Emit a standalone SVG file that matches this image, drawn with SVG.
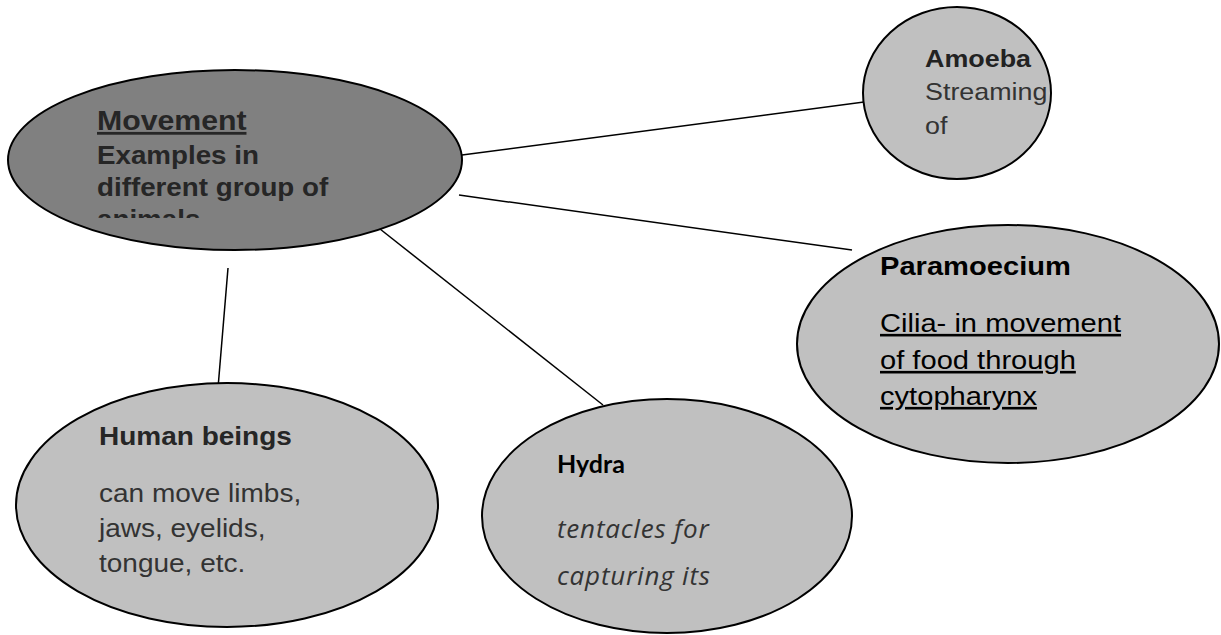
<svg xmlns="http://www.w3.org/2000/svg" width="1221" height="635" viewBox="0 0 1221 635">
  <style>
    .node-dark { fill: #808080; stroke: #000; stroke-width: 2; }
    .node { fill: #c0c0c0; stroke: #000; stroke-width: 2; }
    .edge { stroke: #000; stroke-width: 1.5; fill: none; }
    .sans { font-family: "Liberation Sans", Arial, sans-serif; }
    .b { font-weight: bold; }
    .u { text-decoration: underline; }
    .hand { font-family: "Open Sans", "DejaVu Sans", sans-serif; font-style: italic; font-weight: 400; letter-spacing: 0.8px; }
  </style>
  <defs>
    <clipPath id="centre-clip">
      <rect x="0" y="60" width="470" height="158"/>
    </clipPath>
  </defs>

  <rect width="1221" height="635" fill="#fff"/>

  <!-- connectors -->
  <g id="connectors">
    <line class="edge" x1="462" y1="155" x2="864" y2="102"/>
    <line class="edge" x1="459" y1="195" x2="852" y2="250"/>
    <line class="edge" x1="380" y1="229" x2="603" y2="405"/>
    <line class="edge" x1="228" y1="268" x2="218" y2="388"/>
  </g>

  <!-- central topic -->
  <g id="movement">
    <ellipse class="node-dark" cx="235" cy="160" rx="227" ry="90"/>
    <g clip-path="url(#centre-clip)">
      <g transform="translate(97,0) scale(1.08,1)" class="sans b" fill="#262626">
        <text x="0" y="130" font-size="28" class="u">Movement</text>
      </g>
      <g transform="translate(97,0) scale(1.11,1)" class="sans b" fill="#262626">
        <text x="0" y="164" font-size="25">Examples in</text>
        <text x="0" y="196" font-size="25">different group of</text>
        <text x="0" y="228" font-size="25">animals</text>
      </g>
    </g>
  </g>

  <!-- amoeba -->
  <g id="amoeba">
    <ellipse class="node" cx="957" cy="93" rx="94" ry="86"/>
    <g transform="translate(925,0) scale(1.12,1)" class="sans">
      <text x="0" y="67" font-size="24" class="b" fill="#222">Amoeba</text>
      <text x="0" y="100" font-size="24" fill="#333">Streaming</text>
      <text x="0" y="134" font-size="24" fill="#333">of</text>
    </g>
  </g>

  <!-- paramoecium -->
  <g id="paramoecium">
    <ellipse class="node" cx="1008" cy="344" rx="211" ry="119"/>
    <g transform="translate(880,0) scale(1.12,1)" class="sans" fill="#000">
      <text x="0" y="275" font-size="26" class="b">Paramoecium</text>
      <text x="0" y="332" font-size="26" class="u">Cilia- in movement</text>
      <text x="0" y="369" font-size="26" class="u">of food through</text>
      <text x="0" y="405" font-size="26" class="u">cytopharynx</text>
    </g>
  </g>

  <!-- human beings -->
  <g id="human-beings">
    <ellipse class="node" cx="227" cy="505" rx="211" ry="122"/>
    <g transform="translate(99,0) scale(1.12,1)" class="sans">
      <text x="0" y="445" font-size="25" class="b" fill="#262626">Human beings</text>
      <text x="0" y="502" font-size="25" fill="#333">can move limbs,</text>
      <text x="0" y="537" font-size="25" fill="#333">jaws, eyelids,</text>
      <text x="0" y="572" font-size="25" fill="#333">tongue, etc.</text>
    </g>
  </g>

  <!-- hydra -->
  <g id="hydra">
    <ellipse class="node" cx="667" cy="516" rx="185" ry="117"/>
    <text x="557" y="473" font-family="Lato, 'Open Sans', sans-serif" font-weight="bold" font-size="25" fill="#000">Hydra</text>
    <text x="557" y="538" class="hand" font-size="26" fill="#333">tentacles for</text>
    <text x="557" y="585" class="hand" font-size="26" fill="#333">capturing its</text>
  </g>
</svg>
